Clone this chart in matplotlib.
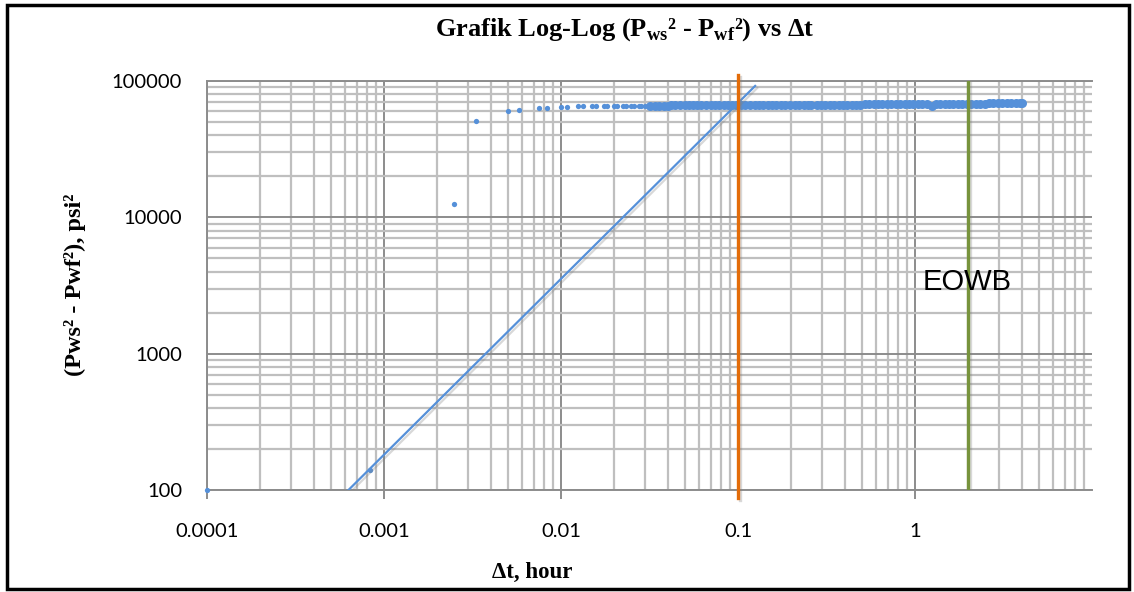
import matplotlib
matplotlib.use("Agg")
import matplotlib.pyplot as plt
import matplotlib.patheffects as pe
from matplotlib.patches import Rectangle
from matplotlib.ticker import LogLocator, NullFormatter

plt.rcParams['mathtext.fontset'] = 'custom'
plt.rcParams['mathtext.rm'] = 'Liberation Serif:bold'
plt.rcParams['mathtext.bf'] = 'Liberation Serif:bold'

# Data: buildup test, delta t (hour) vs (Pws^2 - Pwf^2)
dt_awal = [0.0001, 0.00083, 0.0025, 0.0033, 0.0050, 0.0058, 0.0075, 0.0083,
           0.0100, 0.0108, 0.0125, 0.0133, 0.0150, 0.0158, 0.0175, 0.0183,
           0.0200, 0.0208, 0.0225, 0.0233, 0.0250, 0.0258, 0.0275, 0.0283, 0.0300]
dp_awal = [100, 140, 12500, 50500, 60500, 61500, 63000, 63500,
           64500, 65000, 65200, 65300, 65400, 65500, 65600, 65600,
           65700, 65700, 65800, 65800, 65800, 65900, 65900, 65900, 66000]

dt_stabil = [0.032, 0.034, 0.036, 0.038, 0.040, 0.042, 0.044, 0.047, 0.050, 0.053,
             0.056, 0.059, 0.062, 0.066, 0.070, 0.074, 0.078, 0.083, 0.088, 0.093,
             0.098, 0.104, 0.110, 0.117, 0.124, 0.131, 0.139, 0.147, 0.156, 0.165,
             0.175, 0.185, 0.196, 0.210, 0.220, 0.235, 0.250, 0.260, 0.280, 0.295,
             0.310, 0.330, 0.350, 0.370, 0.390, 0.415, 0.440, 0.465, 0.490, 0.520,
             0.550, 0.585, 0.620, 0.655, 0.695, 0.735, 0.780, 0.825, 0.875, 0.925,
             0.980, 1.040, 1.100, 1.165, 1.250, 1.310, 1.385, 1.470, 1.555, 1.650,
             1.745, 1.850, 1.960, 2.080, 2.200, 2.330, 2.470, 2.620, 2.770, 2.940,
             3.110, 3.300, 3.490, 3.700, 3.920, 4.000]
dp_stabil = [66000, 66000, 66100, 66100, 66100, 66200, 66200, 66200, 66300, 66300,
             66300, 66400, 66400, 66400, 66500, 66500, 66500, 66600, 66600, 66600,
             66700, 66700, 66700, 66700, 66800, 66800, 66800, 66800, 66800, 66900,
             66900, 66900, 66900, 66900, 67000, 67000, 67000, 67000, 67000, 67100,
             67100, 67100, 67100, 67100, 67200, 67200, 67200, 67200, 67200, 67300,
             67300, 67300, 67300, 67300, 67400, 67400, 67400, 67400, 67500, 67500,
             67500, 67500, 67600, 67600, 65600, 67700, 67700, 67800, 67800, 67900,
             67900, 68000, 68000, 68100, 68200, 68200, 68300, 68400, 68400, 68500,
             68600, 68600, 68700, 68800, 68800, 68900]

# garis trend (slope unit) dan garis vertikal
trend_x = [0.00063, 0.125]
trend_y = [100, 92000]
garis_oranye_x = [0.1, 0.1]
garis_oranye_y = [87, 110000]
garis_hijau_x = [2.0, 2.0]
garis_hijau_y = [100, 100000]

xticks = [0.0001, 0.001, 0.01, 0.1, 1]
xlabels = ['0.0001', '0.001', '0.01', '0.1', '1']
yticks = [100, 1000, 10000, 100000]
ylabels = ['100', '1000', '10000', '100000']

biru = '#5590D9'

fig = plt.figure(figsize=(11.34, 5.92), dpi=100)
ax = fig.add_axes([207/1134, 1-490/592, (1092-207)/1134, (490-81)/592])
ax.set_xscale('log')
ax.set_yscale('log')
ax.set_xlim(0.0001, 10)
ax.set_ylim(100, 100000)

# grid
ax.xaxis.set_minor_locator(LogLocator(base=10, subs=range(2, 10), numticks=20))
ax.yaxis.set_minor_locator(LogLocator(base=10, subs=range(2, 10), numticks=20))
ax.xaxis.set_minor_formatter(NullFormatter())
ax.yaxis.set_minor_formatter(NullFormatter())
ax.grid(which='minor', color='#BFBFBF', lw=1.6, zorder=0)
ax.grid(which='major', color='#8C8C8C', lw=1.4, zorder=0)
ax.set_axisbelow(True)

ax.set_xticks(xticks, xlabels)
ax.set_yticks(yticks, ylabels)
for lab in ax.get_xticklabels() + ax.get_yticklabels():
    lab.set_fontfamily('Lato')
    lab.set_fontsize(14.5)
ax.tick_params(axis='x', which='major', direction='out', length=6.5, width=1.4,
               color='#8C8C8C', pad=17)
ax.tick_params(axis='x', which='minor', length=0)
ax.tick_params(axis='y', which='both', length=0, pad=18)

for s in ['left', 'bottom', 'top']:
    ax.spines[s].set_color('#8C8C8C')
    ax.spines[s].set_linewidth(1.4)
ax.spines['right'].set_visible(False)

# data
ax.plot(dt_awal, dp_awal, 'o', ms=3.8, color=biru, mec='none', zorder=3, clip_on=False)
ax.plot(dt_stabil, dp_stabil, 'o', ms=6.5, color=biru, mec='none', zorder=3)

bayangan = [pe.SimpleLineShadow(offset=(1.5, -1.5), alpha=0.3, shadow_color='gray'), pe.Normal()]
ax.plot(trend_x, trend_y, color=biru, lw=1.6, zorder=4, path_effects=bayangan)
ax.plot(garis_oranye_x, garis_oranye_y, color='#E36C09', lw=2.4, zorder=5,
        clip_on=False, path_effects=bayangan)
ax.plot(garis_hijau_x, garis_hijau_y, color='#77933C', lw=2.4, zorder=5,
        path_effects=bayangan)

ax.text(1.96, 3350, 'EOWB', fontsize=21, fontfamily='Liberation Sans',
        ha='center', va='center', zorder=6)

# judul dan label
fig.text(625/1134, 1-30/592,
         r'Grafik Log-Log (P$_{\rm ws}$² - P$_{\rm wf}$²) vs Δt',
         ha='center', va='center', fontsize=19, fontweight='bold',
         fontfamily='Liberation Serif')
fig.text(532/1134, 1-572/592, 'Δt, hour', ha='center', va='center',
         fontsize=16.5, fontweight='bold', fontfamily='Liberation Serif')
fig.text(75/1134, 1-285/592, '(Pws² - Pwf²), psi²', ha='center', va='center',
         rotation=90, fontsize=17.5, fontweight='bold', fontfamily='Liberation Serif')

# bingkai
fig.patches.append(Rectangle((7, 3), 1122, 584, transform=None, fill=False,
                             edgecolor='black', lw=2.5))

fig.savefig('out.png', dpi=100)
